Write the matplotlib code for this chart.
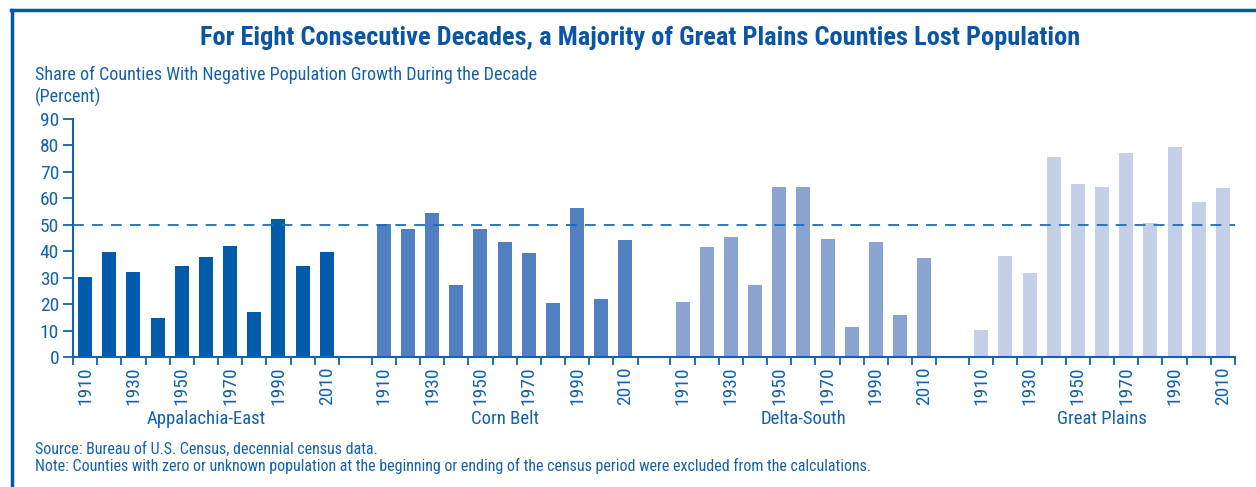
import numpy as np
import matplotlib.pyplot as plt
from matplotlib.lines import Line2D
from matplotlib.ticker import FixedLocator, NullFormatter

# data
regions = ['Appalachia-East', 'Corn Belt', 'Delta-South', 'Great Plains']
decades = [1910, 1920, 1930, 1940, 1950, 1960, 1970, 1980, 1990, 2000, 2010]
appalachia = [30.2, 39.7, 32.1, 14.7, 34.4, 37.8, 42.0, 16.9, 52.2, 34.4, 39.7]
corn_belt = [50.2, 48.4, 54.5, 27.2, 48.4, 43.5, 39.3, 20.4, 56.4, 21.9, 44.2]
delta_south = [20.7, 41.6, 45.4, 27.2, 64.3, 64.3, 44.6, 11.3, 43.5, 15.8, 37.4]
great_plains = [10.1, 38.2, 31.7, 75.7, 65.5, 64.3, 77.2, 50.7, 79.5, 58.7, 64.0]
series = [appalachia, corn_belt, delta_south, great_plains]
colors = ['#005baa', '#517fbf', '#8ba3d1', '#c5cfe8']
majority_line = 50

txt_col = '#1262b0'
font = ['Roboto Condensed', 'Archivo Narrow', 'Sofia Sans Condensed', 'DejaVu Sans']
plt.rcParams['font.family'] = font

W, H = 1256, 487
fig = plt.figure(figsize=(W / 100, H / 100), dpi=100)
ax = fig.add_axes([73 / W, 1 - 357 / H, (1235 - 73) / W, (357 - 119) / H])

n = len(decades)
gap = 1.36
major_pos, major_lab, minor_pos = [], [], []
for g, vals in enumerate(series):
    start = g * (n + gap)
    x = start + np.arange(n) + 0.5
    ax.bar(x, vals, width=0.58, color=colors[g], zorder=2)
    minor_pos += list(start + np.arange(n + 1))
    for i, d in enumerate(decades):
        if i % 2 == 0:
            major_pos.append(x[i])
            major_lab.append(str(d))
    ax.text(start + n / 2, -0.26, regions[g], transform=ax.get_xaxis_transform(),
            ha='center', va='center', fontsize=13.5, color=txt_col)

ax.axhline(majority_line, color='#1a6dbd', lw=1.3, ls=(0, (6, 4.5)), zorder=3)

ax.set_xlim(0, 4 * n + 3 * gap)
ax.set_ylim(0, 90)
ax.set_yticks(np.arange(0, 91, 10))
ax.set_xticks(major_pos)
ax.set_xticklabels(major_lab, rotation=90)
ax.xaxis.set_minor_locator(FixedLocator(minor_pos))
ax.xaxis.set_minor_formatter(NullFormatter())
ax.tick_params(axis='x', which='major', length=0, pad=7, labelsize=14, labelcolor=txt_col)
ax.tick_params(axis='x', which='minor', length=6, width=1.3, color=txt_col, direction='out')
ax.tick_params(axis='y', length=7, width=1.3, color=txt_col, labelsize=14, labelcolor=txt_col, pad=3)
for s in ['top', 'right']:
    ax.spines[s].set_visible(False)
for s in ['left', 'bottom']:
    ax.spines[s].set_color(txt_col)
    ax.spines[s].set_linewidth(1.5)

fig.text(640 / W, 1 - 38 / H, 'For Eight Consecutive Decades, a Majority of Great Plains Counties Lost Population',
         ha='center', va='center', fontsize=19, fontweight='bold', color='#0a55a5')
fig.text(35 / W, 1 - 75 / H, 'Share of Counties With Negative Population Growth During the Decade',
         ha='left', va='center', fontsize=13.1, color=txt_col)
fig.text(35 / W, 1 - 97 / H, '(Percent)', ha='left', va='center', fontsize=13.1, color=txt_col)
fig.text(35 / W, 1 - 449 / H, 'Source: Bureau of U.S. Census, decennial census data.',
         ha='left', va='center', fontsize=11.5, color=txt_col)
fig.text(35 / W, 1 - 466 / H,
         'Note: Counties with zero or unknown population at the beginning or ending of the census period were excluded from the calculations.',
         ha='left', va='center', fontsize=11.5, color=txt_col)

# frame lines at top and left
fig.add_artist(Line2D([11 / W, 1], [1 - 10 / H, 1 - 10 / H], color='#005baa', lw=2.5))
fig.add_artist(Line2D([12 / W, 12 / W], [0, 1 - 10 / H], color='#005baa', lw=2.5))

fig.savefig('out.png', dpi=100)
